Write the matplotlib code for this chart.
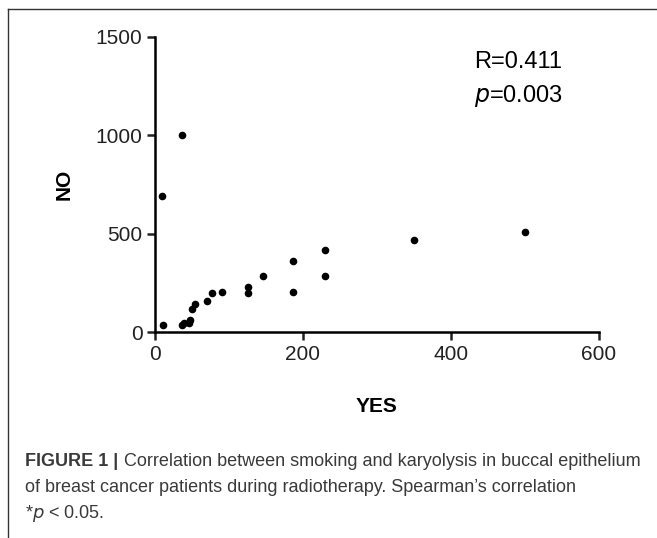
import matplotlib
matplotlib.use("Agg")
import matplotlib.pyplot as plt
from matplotlib.lines import Line2D

plt.rcParams["font.family"] = ["Liberation Sans", "DejaVu Sans"]

# values
yes = [10, 36, 11, 36, 39, 46, 47, 50, 54, 70, 77, 91, 126, 126, 146, 187, 187,
       230, 230, 350, 500]
no = [693, 1000, 34, 36, 44, 47, 61, 119, 142, 158, 198, 203, 227, 198, 285,
      359, 203, 418, 285, 468, 507]

x_ticks = [0, 200, 400, 600]
y_ticks = [0, 500, 1000, 1500]

stats_r = "R=0.411"
stats_p = "$p$=0.003"

caption_lines = [
    "Correlation between smoking and karyolysis in buccal epithelium",
    "of breast cancer patients during radiotherapy. Spearman\u2019s correlation",
]

fig = plt.figure(figsize=(6.57, 5.38), dpi=100)
ax = fig.add_axes([155 / 657, 1 - 332 / 538, 444 / 657, 295 / 538])

ax.scatter(yes, no, s=20, color="black", zorder=3, clip_on=False)

ax.set_xlim(0, 600)
ax.set_ylim(0, 1500)
ax.set_xticks(x_ticks)
ax.set_yticks(y_ticks)

for side in ["top", "right"]:
    ax.spines[side].set_visible(False)
for side in ["left", "bottom"]:
    ax.spines[side].set_linewidth(1.8)
ax.tick_params(width=1.8, length=6, labelsize=15, colors="#222222", pad=3)

ax.set_xlabel("YES", fontsize=15, fontweight="bold", labelpad=24)
ax.set_ylabel("NO", fontsize=15, fontweight="bold", labelpad=16)

ax.text(474 / 657, 1 - 62 / 538, stats_r, transform=fig.transFigure,
        fontsize=17, va="center", ha="left")
ax.text(474 / 657, 1 - 96 / 538, stats_p, transform=fig.transFigure,
        fontsize=17, va="center", ha="left")

# caption
cap_color = "#3a3a3a"
fig.text(25 / 657, 1 - 461 / 538, "FIGURE 1 |", fontsize=13, fontweight="bold",
         color=cap_color, va="center")
fig.text(124 / 657, 1 - 461 / 538, caption_lines[0], fontsize=13,
         color=cap_color, va="center")
fig.text(25 / 657, 1 - 487 / 538, caption_lines[1], fontsize=13,
         color=cap_color, va="center")
fig.text(25 / 657, 1 - 513 / 538, "*$p$ < 0.05.", fontsize=13,
         color=cap_color, va="center")

# frame lines (top and left) around the figure panel
fig.add_artist(Line2D([8 / 657, 8 / 657], [0, 1 - 9 / 538],
                      transform=fig.transFigure, color="#333333", lw=1))
fig.add_artist(Line2D([8 / 657, 1], [1 - 9 / 538, 1 - 9 / 538],
                      transform=fig.transFigure, color="#333333", lw=1))

fig.savefig("out.png", dpi=100)
